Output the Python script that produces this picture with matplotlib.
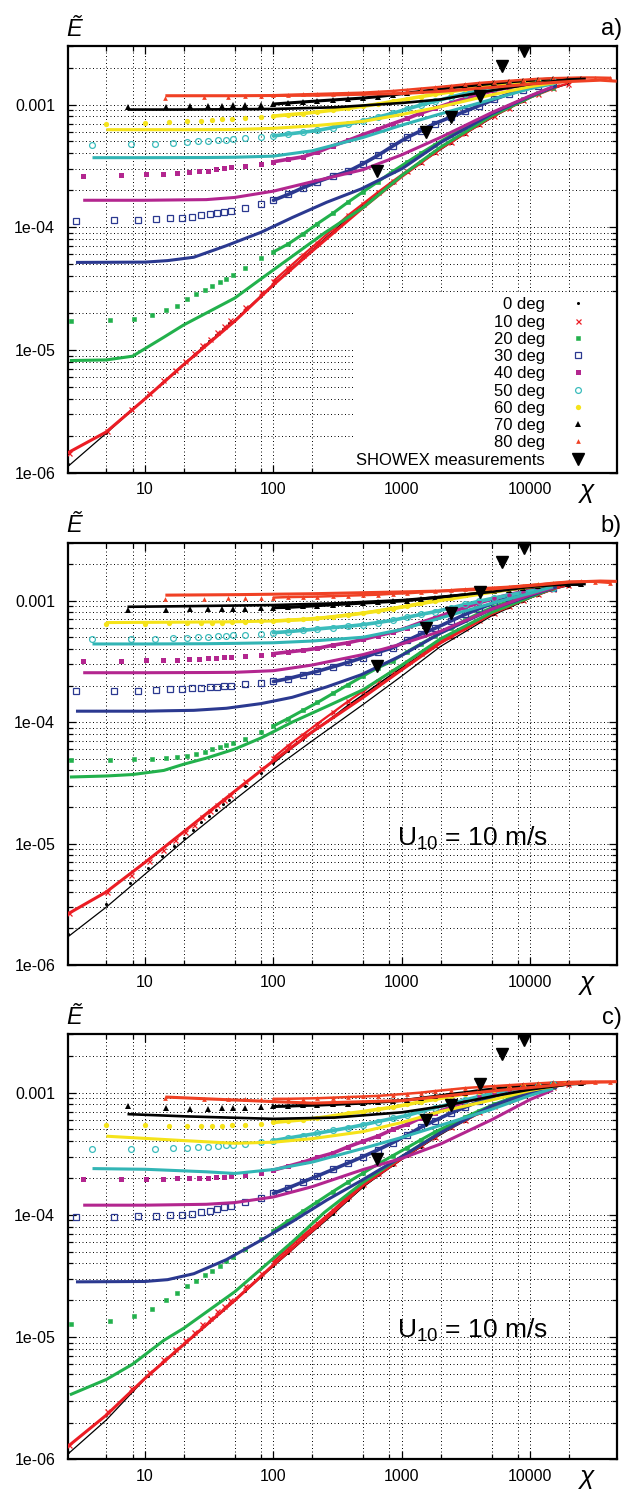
import matplotlib
matplotlib.use("Agg")
import matplotlib.pyplot as plt
from matplotlib.patches import Rectangle

plt.rcParams['font.family'] = ['Liberation Sans', 'DejaVu Sans']
plt.rcParams['mathtext.fontset'] = 'custom'
plt.rcParams['mathtext.rm'] = 'Liberation Sans'
plt.rcParams['mathtext.it'] = 'Liberation Sans:italic'

# ---------------- data ----------------
LABELS = ['0 deg', '10 deg', '20 deg', '30 deg', '40 deg', '50 deg', '60 deg', '70 deg', '80 deg']
SHOWEX_LABEL = 'SHOWEX measurements'
PANEL_TAGS = ['a)', 'b)', 'c)']
U10_TEXT = r'U$_{\mathregular{10}}$ = 10 m/s'

XTICKS = [10, 100, 1000, 10000]
XTICKLABELS = ['10', '100', '1000', '10000']
XMINOR = [5, 8, 20, 50, 80, 200, 500, 800, 2000, 5000, 8000, 20000]
YTICKS = [1e-6, 1e-5, 1e-4, 1e-3]
YTICKLABELS = ['1e-06', '1e-05', '1e-04', '0.001']

# SHOWEX measurements
SX = [643, 1549, 2427, 4085, 6030, 8995]
SE = [2.88e-4, 6.0e-4, 7.98e-4, 1.18e-3, 2.08e-3, 2.71e-3]

# line knots (fetch) per angle
LX00 = [2.5, 5, 10, 20, 50, 100, 200, 500, 1000, 2000, 5000, 10000, 17000]
LX10 = [2.5, 5, 10, 20, 50, 100, 200, 500, 1000, 2000, 5000, 10000, 17000]
LX20 = [2.6, 5, 8, 14, 20, 30, 50, 80, 140, 250, 500, 1000, 2000, 5000, 10000, 16000]
LX30 = [2.9, 10, 15, 24, 43, 80, 140, 260, 480, 1000, 2000, 5000, 10000, 16000]
LX40 = [3.3, 10, 30, 50, 100, 200, 500, 1000, 2000, 5000, 10000, 15000]
LX50 = [3.9, 10, 30, 50, 100, 200, 500, 1000, 2000, 5000, 10000, 15000]
LX60 = [5, 20, 50, 100, 200, 500, 1000, 2000, 5000, 10000, 19000]
LX70 = [7.3, 20, 100, 300, 1000, 2000, 5000, 10000, 20000, 27000]
LX80 = [14.4, 50, 200, 1000, 2000, 5000, 10000, 20000, 35000, 47000]

# marker fetches: sparse start per angle, then shared dense part
MS00 = [2.5, 5.0, 7.7, 10.6, 13.6, 16.7, 20.0, 23.6, 27.5, 31.4, 35.8, 40.4, 45.3]
MS10 = [2.54, 5.08, 7.82, 10.8, 13.8, 17.0, 20.3, 24.0, 27.9, 31.9, 36.3, 41.0, 46.0]
MS20 = [2.66, 5.32, 8.19, 11.3, 14.5, 17.8, 21.3, 25.1, 29.3, 33.4, 38.1, 43.0, 48.2]
MS30 = [2.89, 5.77, 8.89, 12.2, 15.7, 19.3, 23.1, 27.3, 31.8, 36.3, 41.3, 46.7]
MS40 = [3.26, 6.53, 10.1, 13.8, 17.8, 21.8, 26.1, 30.8, 35.9, 41.0, 46.7]
MS50 = [3.89, 7.78, 12.0, 16.5, 21.2, 26.0, 31.1, 36.7, 42.8, 48.8]
MS60 = [5.0, 10.0, 15.4, 21.2, 27.2, 33.4, 40.0, 47.2]
MS70 = [7.31, 14.6, 22.5, 31.0, 39.8, 48.8]
MS80 = [14.4, 28.8, 44.3]
DX = [60, 80, 100, 130, 170, 220, 290, 380, 500, 650, 850, 1100, 1400, 1800,
      2400, 3100, 4000, 5200, 6800, 8800, 11500, 15000, 19500, 25000, 32000, 42000]
BAND_START = 100  # from this fetch on the model points overlap into a band

# ---- panel a: lines ----
A_L00 = [1.12e-6, 2.1e-6, 4.0e-6, 7.7e-6, 1.75e-5, 3.45e-5, 6.5e-5, 1.47e-4, 2.62e-4, 4.45e-4, 8.0e-4, 1.15e-3, 1.42e-3]
A_L10 = [1.45e-6, 2.15e-6, 4.0e-6, 7.6e-6, 1.72e-5, 3.4e-5, 6.4e-5, 1.45e-4, 2.6e-4, 4.4e-4, 8.0e-4, 1.15e-3, 1.43e-3]
A_L20 = [8.2e-6, 8.3e-6, 8.9e-6, 1.27e-5, 1.6e-5, 2.0e-5, 2.65e-5, 3.8e-5, 5.8e-5, 9.0e-5, 1.45e-4, 2.65e-4, 4.5e-4, 8.1e-4, 1.15e-3, 1.42e-3]
A_L30 = [5.17e-5, 5.2e-5, 5.35e-5, 5.7e-5, 7.08e-5, 9.1e-5, 1.2e-4, 1.6e-4, 2.05e-4, 3.0e-4, 4.9e-4, 8.4e-4, 1.17e-3, 1.42e-3]
A_L40 = [1.66e-4, 1.66e-4, 1.68e-4, 1.75e-4, 1.97e-4, 2.35e-4, 2.95e-4, 3.9e-4, 5.4e-4, 8.6e-4, 1.18e-3, 1.4e-3]
A_L50 = [3.69e-4, 3.69e-4, 3.7e-4, 3.72e-4, 3.8e-4, 4.2e-4, 5.4e-4, 6.8e-4, 8.4e-4, 1.1e-3, 1.35e-3, 1.47e-3]
A_L60 = [6.24e-4, 6.24e-4, 6.26e-4, 6.4e-4, 6.7e-4, 7.3e-4, 8.3e-4, 9.6e-4, 1.2e-3, 1.4e-3, 1.56e-3]
A_L70 = [0.91e-3, 0.91e-3, 0.92e-3, 0.95e-3, 1.03e-3, 1.1e-3, 1.3e-3, 1.47e-3, 1.6e-3, 1.62e-3]
A_L80 = [1.18e-3, 1.18e-3, 1.19e-3, 1.23e-3, 1.28e-3, 1.38e-3, 1.47e-3, 1.54e-3, 1.58e-3, 1.55e-3]
# ---- panel a: markers ----
A_M00 = [1.17e-6, 2.1e-6, 3.2e-6, 4.3e-6, 5.4e-6, 6.5e-6, 7.7e-6, 9.0e-6, 1.04e-5, 1.18e-5, 1.33e-5, 1.49e-5, 1.65e-5,
         2.1e-5, 2.75e-5, 3.4e-5, 4.35e-5, 5.6e-5, 7.1e-5, 9.2e-5, 1.19e-4, 1.5e-4, 1.85e-4, 2.3e-4, 2.8e-4, 3.35e-4,
         4.0e-4, 4.9e-4, 5.8e-4, 6.8e-4, 8.0e-4, 9.3e-4, 1.07e-3, 1.22e-3, 1.36e-3, 1.47e-3]
A_M10 = [1.45e-6, 2.2e-6, 3.3e-6, 4.5e-6, 5.7e-6, 6.9e-6, 8.1e-6, 9.5e-6, 1.09e-5, 1.24e-5, 1.4e-5, 1.57e-5, 1.74e-5,
         2.25e-5, 2.95e-5, 3.65e-5, 4.65e-5, 5.95e-5, 7.5e-5, 9.7e-5, 1.25e-4, 1.56e-4, 1.93e-4, 2.38e-4, 2.88e-4, 3.43e-4,
         4.08e-4, 4.98e-4, 5.9e-4, 6.9e-4, 8.1e-4, 9.4e-4, 1.08e-3, 1.23e-3, 1.37e-3, 1.48e-3]
A_M20 = [1.72e-5, 1.76e-5, 1.8e-5, 1.93e-5, 2.1e-5, 2.3e-5, 2.6e-5, 2.86e-5, 3.07e-5, 3.3e-5, 3.55e-5, 3.8e-5, 4.1e-5,
         4.65e-5, 5.6e-5, 6.3e-5, 7.3e-5, 8.8e-5, 1.07e-4, 1.3e-4, 1.6e-4, 1.95e-4, 2.35e-4, 2.85e-4, 3.4e-4, 4.0e-4,
         4.7e-4, 5.6e-4, 6.5e-4, 7.5e-4, 8.6e-4, 9.8e-4, 1.1e-3, 1.24e-3, 1.37e-3]
A_M30 = [1.13e-4, 1.14e-4, 1.15e-4, 1.17e-4, 1.18e-4, 1.2e-4, 1.22e-4, 1.25e-4, 1.28e-4, 1.3e-4, 1.32e-4, 1.35e-4,
         1.44e-4, 1.55e-4, 1.66e-4, 1.85e-4, 2.1e-4, 2.35e-4, 2.6e-4, 2.85e-4, 3.3e-4, 3.85e-4, 4.6e-4, 5.4e-4, 6.1e-4,
         7.0e-4, 7.9e-4, 8.8e-4, 9.8e-4, 1.1e-3, 1.22e-3, 1.32e-3, 1.42e-3, 1.5e-3]
A_M40 = [2.61e-4, 2.68e-4, 2.7e-4, 2.74e-4, 2.78e-4, 2.82e-4, 2.86e-4, 2.9e-4, 2.96e-4, 3.02e-4, 3.08e-4,
         3.18e-4, 3.3e-4, 3.42e-4, 3.58e-4, 3.75e-4, 4.1e-4, 4.6e-4, 5.1e-4, 5.7e-4, 6.3e-4, 7.0e-4, 7.7e-4, 8.5e-4,
         9.3e-4, 1.03e-3, 1.12e-3, 1.21e-3, 1.3e-3, 1.38e-3, 1.44e-3, 1.5e-3, 1.55e-3]
A_M50 = [4.71e-4, 4.73e-4, 4.78e-4, 4.86e-4, 4.93e-4, 5.0e-4, 5.08e-4, 5.13e-4, 5.18e-4, 5.22e-4,
         5.3e-4, 5.4e-4, 5.55e-4, 5.75e-4, 5.95e-4, 6.15e-4, 6.5e-4, 6.9e-4, 7.35e-4, 7.9e-4, 8.5e-4, 9.2e-4, 9.9e-4,
         1.06e-3, 1.15e-3, 1.23e-3, 1.3e-3, 1.37e-3, 1.43e-3, 1.48e-3, 1.52e-3, 1.55e-3]
A_M60 = [6.99e-4, 7.08e-4, 7.15e-4, 7.3e-4, 7.4e-4, 7.5e-4, 7.58e-4, 7.65e-4,
         7.8e-4, 7.95e-4, 8.05e-4, 8.25e-4, 8.45e-4, 8.7e-4, 9.0e-4, 9.3e-4, 9.7e-4, 1.01e-3, 1.06e-3, 1.11e-3, 1.16e-3,
         1.21e-3, 1.27e-3, 1.33e-3, 1.38e-3, 1.43e-3, 1.48e-3, 1.52e-3, 1.55e-3, 1.57e-3]
A_M70 = [0.95e-3, 0.96e-3, 0.97e-3, 0.975e-3, 0.98e-3, 0.99e-3,
         0.995e-3, 1.0e-3, 1.01e-3, 1.03e-3, 1.05e-3, 1.07e-3, 1.09e-3, 1.11e-3, 1.13e-3, 1.16e-3, 1.2e-3, 1.24e-3,
         1.28e-3, 1.32e-3, 1.37e-3, 1.41e-3, 1.45e-3, 1.49e-3, 1.53e-3, 1.56e-3, 1.59e-3, 1.62e-3, 1.63e-3, 1.63e-3]
A_M80 = [1.13e-3, 1.15e-3, 1.16e-3,
         1.17e-3, 1.18e-3, 1.19e-3, 1.2e-3, 1.21e-3, 1.22e-3, 1.23e-3, 1.24e-3, 1.25e-3, 1.27e-3, 1.29e-3, 1.32e-3,
         1.35e-3, 1.38e-3, 1.42e-3, 1.46e-3, 1.5e-3, 1.53e-3, 1.56e-3, 1.59e-3, 1.62e-3, 1.64e-3, 1.65e-3, 1.66e-3,
         1.66e-3, 1.65e-3]

# ---- panel b: lines ----
B_L00 = [1.7e-6, 3.0e-6, 5.6e-6, 1.05e-5, 2.3e-5, 4.1e-5, 7.0e-5, 1.4e-4, 2.4e-4, 4.2e-4, 7.5e-4, 1.05e-3, 1.3e-3]
B_L10 = [2.63e-6, 4.0e-6, 7.0e-6, 1.25e-5, 2.7e-5, 4.8e-5, 8.3e-5, 1.6e-4, 2.7e-4, 4.5e-4, 7.8e-4, 1.07e-3, 1.31e-3]
B_L20 = [3.53e-5, 3.6e-5, 3.7e-5, 4.0e-5, 4.5e-5, 5.05e-5, 6.0e-5, 7.4e-5, 1.0e-4, 1.32e-4, 1.85e-4, 2.95e-4, 4.85e-4, 8.0e-4, 1.07e-3, 1.3e-3]
B_L30 = [1.23e-4, 1.23e-4, 1.24e-4, 1.25e-4, 1.3e-4, 1.42e-4, 1.6e-4, 1.95e-4, 2.45e-4, 3.55e-4, 5.4e-4, 8.5e-4, 1.1e-3, 1.3e-3]
B_L40 = [2.55e-4, 2.55e-4, 2.56e-4, 2.57e-4, 2.65e-4, 2.95e-4, 3.6e-4, 4.4e-4, 5.6e-4, 8.5e-4, 1.12e-3, 1.28e-3]
B_L50 = [4.4e-4, 4.4e-4, 4.42e-4, 4.45e-4, 4.5e-4, 4.65e-4, 5.0e-4, 5.8e-4, 7.2e-4, 9.5e-4, 1.15e-3, 1.3e-3]
B_L60 = [6.6e-4, 6.65e-4, 6.7e-4, 6.8e-4, 7.05e-4, 7.9e-4, 8.9e-4, 1.0e-3, 1.17e-3, 1.3e-3, 1.38e-3]
B_L70 = [0.89e-3, 0.9e-3, 0.92e-3, 0.95e-3, 1.01e-3, 1.07e-3, 1.18e-3, 1.3e-3, 1.37e-3, 1.37e-3]
B_L80 = [1.11e-3, 1.12e-3, 1.14e-3, 1.18e-3, 1.2e-3, 1.25e-3, 1.33e-3, 1.42e-3, 1.45e-3, 1.44e-3]
# ---- panel b: markers ----
B_M00 = [1.8e-6, 3.2e-6, 4.7e-6, 6.3e-6, 7.9e-6, 9.5e-6, 1.12e-5, 1.3e-5, 1.5e-5, 1.7e-5, 1.9e-5, 2.1e-5, 2.3e-5,
         3.0e-5, 3.8e-5, 4.6e-5, 5.8e-5, 7.2e-5, 8.9e-5, 1.1e-4, 1.37e-4, 1.68e-4, 2.05e-4, 2.5e-4, 3.0e-4, 3.55e-4,
         4.2e-4, 5.0e-4, 5.9e-4, 6.8e-4, 7.8e-4, 8.9e-4, 1.0e-3, 1.12e-3, 1.24e-3, 1.33e-3]
B_M10 = [2.7e-6, 4.0e-6, 5.5e-6, 7.2e-6, 8.9e-6, 1.06e-5, 1.24e-5, 1.43e-5, 1.64e-5, 1.85e-5, 2.07e-5, 2.3e-5, 2.52e-5,
         3.3e-5, 4.2e-5, 5.1e-5, 6.4e-5, 7.9e-5, 9.7e-5, 1.2e-4, 1.48e-4, 1.8e-4, 2.2e-4, 2.65e-4, 3.15e-4, 3.7e-4,
         4.35e-4, 5.15e-4, 6.0e-4, 6.9e-4, 7.9e-4, 9.0e-4, 1.01e-3, 1.13e-3, 1.25e-3, 1.34e-3]
B_M20 = [4.84e-5, 4.9e-5, 4.95e-5, 5.0e-5, 5.05e-5, 5.17e-5, 5.3e-5, 5.5e-5, 5.7e-5, 5.95e-5, 6.2e-5, 6.45e-5, 6.7e-5,
         7.3e-5, 8.3e-5, 9.3e-5, 1.07e-4, 1.25e-4, 1.45e-4, 1.72e-4, 2.03e-4, 2.4e-4, 2.8e-4, 3.2e-4, 3.8e-4, 4.4e-4,
         5.1e-4, 6.0e-4, 6.9e-4, 7.9e-4, 8.9e-4, 9.9e-4, 1.08e-3, 1.17e-3, 1.25e-3]
B_M30 = [1.79e-4, 1.8e-4, 1.82e-4, 1.85e-4, 1.87e-4, 1.88e-4, 1.9e-4, 1.92e-4, 1.94e-4, 1.96e-4, 1.98e-4, 2.0e-4,
         2.04e-4, 2.1e-4, 2.16e-4, 2.28e-4, 2.45e-4, 2.62e-4, 2.85e-4, 3.1e-4, 3.4e-4, 3.75e-4, 4.1e-4, 4.7e-4, 5.3e-4,
         5.9e-4, 6.8e-4, 7.7e-4, 8.6e-4, 9.6e-4, 1.06e-3, 1.14e-3, 1.22e-3, 1.28e-3]
B_M40 = [3.17e-4, 3.2e-4, 3.22e-4, 3.25e-4, 3.27e-4, 3.3e-4, 3.33e-4, 3.36e-4, 3.4e-4, 3.43e-4, 3.46e-4,
         3.5e-4, 3.58e-4, 3.66e-4, 3.78e-4, 3.9e-4, 4.05e-4, 4.3e-4, 4.5e-4, 4.8e-4, 5.15e-4, 5.5e-4, 6.0e-4, 6.6e-4,
         7.2e-4, 8.0e-4, 8.8e-4, 9.6e-4, 1.04e-3, 1.12e-3, 1.19e-3, 1.25e-3, 1.3e-3]
B_M50 = [4.8e-4, 4.83e-4, 4.85e-4, 4.9e-4, 4.95e-4, 5.0e-4, 5.05e-4, 5.1e-4, 5.15e-4, 5.2e-4,
         5.25e-4, 5.35e-4, 5.45e-4, 5.55e-4, 5.7e-4, 5.85e-4, 6.0e-4, 6.15e-4, 6.35e-4, 6.6e-4, 6.9e-4, 7.3e-4, 7.7e-4,
         8.1e-4, 8.7e-4, 9.3e-4, 9.9e-4, 1.05e-3, 1.11e-3, 1.17e-3, 1.23e-3, 1.28e-3]
B_M60 = [6.4e-4, 6.45e-4, 6.5e-4, 6.5e-4, 6.55e-4, 6.6e-4, 6.6e-4, 6.65e-4,
         6.7e-4, 6.75e-4, 6.8e-4, 6.9e-4, 7.0e-4, 7.15e-4, 7.35e-4, 7.6e-4, 7.9e-4, 8.2e-4, 8.6e-4, 9.0e-4, 9.5e-4,
         1.0e-3, 1.06e-3, 1.11e-3, 1.16e-3, 1.21e-3, 1.26e-3, 1.3e-3, 1.34e-3, 1.36e-3]
B_M70 = [0.84e-3, 0.845e-3, 0.85e-3, 0.85e-3, 0.855e-3, 0.855e-3,
         0.86e-3, 0.87e-3, 0.875e-3, 0.88e-3, 0.895e-3, 0.91e-3, 0.925e-3, 0.94e-3, 0.955e-3, 0.97e-3, 0.985e-3, 1.0e-3,
         1.03e-3, 1.06e-3, 1.09e-3, 1.12e-3, 1.15e-3, 1.19e-3, 1.23e-3, 1.27e-3, 1.31e-3, 1.34e-3, 1.36e-3, 1.36e-3]
B_M80 = [1.03e-3, 1.04e-3, 1.05e-3,
         1.05e-3, 1.055e-3, 1.06e-3, 1.07e-3, 1.075e-3, 1.08e-3, 1.09e-3, 1.1e-3, 1.11e-3, 1.12e-3, 1.14e-3, 1.15e-3,
         1.17e-3, 1.19e-3, 1.22e-3, 1.24e-3, 1.26e-3, 1.28e-3, 1.3e-3, 1.33e-3, 1.36e-3, 1.4e-3, 1.43e-3, 1.44e-3,
         1.43e-3, 1.4e-3]

# ---- panel c: lines ----
C_L00 = [1.1e-6, 2.1e-6, 4.55e-6, 8.6e-6, 1.98e-5, 3.8e-5, 7.2e-5, 1.7e-4, 2.85e-4, 4.6e-4, 7.7e-4, 1.0e-3, 1.15e-3]
C_L10 = [1.27e-6, 2.3e-6, 4.6e-6, 8.7e-6, 2.0e-5, 3.9e-5, 7.4e-5, 1.75e-4, 2.9e-4, 4.7e-4, 7.7e-4, 1.0e-3, 1.15e-3]
C_L20 = [3.37e-6, 4.5e-6, 6.0e-6, 9.4e-6, 1.18e-5, 1.6e-5, 2.35e-5, 3.6e-5, 6.0e-5, 1.05e-4, 1.85e-4, 3.0e-4, 4.75e-4, 7.8e-4, 1.0e-3, 1.15e-3]
C_L30 = [2.83e-5, 2.85e-5, 2.95e-5, 3.3e-5, 4.3e-5, 6.2e-5, 8.8e-5, 1.32e-4, 1.9e-4, 3.0e-4, 4.7e-4, 7.8e-4, 1.0e-3, 1.15e-3]
C_L40 = [1.2e-4, 1.2e-4, 1.22e-4, 1.26e-4, 1.4e-4, 1.7e-4, 2.35e-4, 2.9e-4, 3.8e-4, 6.0e-4, 8.8e-4, 1.05e-3]
C_L50 = [2.39e-4, 2.36e-4, 2.25e-4, 2.18e-4, 2.35e-4, 2.7e-4, 3.5e-4, 4.3e-4, 5.4e-4, 7.3e-4, 9.5e-4, 1.08e-3]
C_L60 = [4.4e-4, 4.05e-4, 3.85e-4, 3.93e-4, 4.2e-4, 4.8e-4, 5.7e-4, 7.0e-4, 8.7e-4, 1.04e-3, 1.18e-3]
C_L70 = [0.667e-3, 0.64e-3, 0.61e-3, 0.625e-3, 0.69e-3, 0.77e-3, 0.93e-3, 1.06e-3, 1.17e-3, 1.19e-3]
C_L80 = [0.92e-3, 0.87e-3, 0.82e-3, 0.86e-3, 0.93e-3, 1.03e-3, 1.1e-3, 1.18e-3, 1.22e-3, 1.23e-3]
# ---- panel c: markers ----
C_M00 = [1.15e-6, 2.3e-6, 3.5e-6, 4.8e-6, 6.1e-6, 7.4e-6, 8.7e-6, 1.02e-5, 1.17e-5, 1.32e-5, 1.5e-5, 1.67e-5, 1.85e-5,
         2.4e-5, 3.1e-5, 3.85e-5, 4.9e-5, 6.3e-5, 7.9e-5, 1.01e-4, 1.32e-4, 1.7e-4, 2.1e-4, 2.55e-4, 3.05e-4, 3.6e-4,
         4.25e-4, 5.1e-4, 5.9e-4, 6.8e-4, 7.7e-4, 8.6e-4, 9.5e-4, 1.04e-3, 1.11e-3, 1.16e-3]
C_M10 = [1.3e-6, 2.5e-6, 3.8e-6, 5.2e-6, 6.6e-6, 8.0e-6, 9.4e-6, 1.1e-5, 1.27e-5, 1.43e-5, 1.62e-5, 1.8e-5, 2.0e-5,
         2.6e-5, 3.35e-5, 4.15e-5, 5.3e-5, 6.8e-5, 8.5e-5, 1.09e-4, 1.42e-4, 1.8e-4, 2.2e-4, 2.65e-4, 3.15e-4, 3.7e-4,
         4.35e-4, 5.2e-4, 6.0e-4, 6.9e-4, 7.8e-4, 8.7e-4, 9.6e-4, 1.05e-3, 1.12e-3, 1.17e-3]
C_M20 = [1.28e-5, 1.35e-5, 1.5e-5, 1.7e-5, 2.0e-5, 2.3e-5, 2.6e-5, 2.9e-5, 3.2e-5, 3.5e-5, 3.85e-5, 4.2e-5, 4.55e-5,
         5.3e-5, 6.4e-5, 7.4e-5, 8.9e-5, 1.07e-4, 1.28e-4, 1.55e-4, 1.85e-4, 2.2e-4, 2.6e-4, 3.05e-4, 3.55e-4, 4.1e-4,
         4.75e-4, 5.5e-4, 6.3e-4, 7.1e-4, 8.0e-4, 8.9e-4, 9.7e-4, 1.05e-3, 1.12e-3]
C_M30 = [0.96e-4, 0.96e-4, 0.97e-4, 0.98e-4, 0.99e-4, 1.0e-4, 1.02e-4, 1.05e-4, 1.08e-4, 1.11e-4, 1.15e-4, 1.19e-4,
         1.27e-4, 1.38e-4, 1.5e-4, 1.66e-4, 1.86e-4, 2.08e-4, 2.35e-4, 2.65e-4, 3.0e-4, 3.4e-4, 3.9e-4, 4.5e-4, 5.2e-4,
         5.9e-4, 6.8e-4, 7.6e-4, 8.5e-4, 9.3e-4, 1.01e-3, 1.07e-3, 1.12e-3, 1.16e-3]
C_M40 = [1.95e-4, 1.96e-4, 1.97e-4, 1.98e-4, 1.99e-4, 2.0e-4, 2.0e-4, 2.01e-4, 2.03e-4, 2.05e-4, 2.07e-4,
         2.12e-4, 2.22e-4, 2.32e-4, 2.5e-4, 2.7e-4, 2.95e-4, 3.2e-4, 3.6e-4, 4.0e-4, 4.4e-4, 5.0e-4, 5.5e-4, 6.2e-4,
         6.8e-4, 7.6e-4, 8.4e-4, 9.2e-4, 9.9e-4, 1.05e-3, 1.1e-3, 1.14e-3, 1.17e-3]
C_M50 = [3.44e-4, 3.46e-4, 3.48e-4, 3.53e-4, 3.55e-4, 3.58e-4, 3.6e-4, 3.65e-4, 3.7e-4, 3.75e-4,
         3.83e-4, 3.95e-4, 4.05e-4, 4.25e-4, 4.45e-4, 4.65e-4, 4.9e-4, 5.15e-4, 5.45e-4, 5.8e-4, 6.15e-4, 6.5e-4,
         7.0e-4, 7.5e-4, 8.1e-4, 8.7e-4, 9.3e-4, 9.9e-4, 1.05e-3, 1.1e-3, 1.14e-3, 1.17e-3]
C_M60 = [5.42e-4, 5.4e-4, 5.38e-4, 5.36e-4, 5.36e-4, 5.37e-4, 5.38e-4, 5.4e-4,
         5.45e-4, 5.55e-4, 5.7e-4, 5.85e-4, 6.0e-4, 6.2e-4, 6.45e-4, 6.75e-4, 7.0e-4, 7.3e-4, 7.6e-4, 8.0e-4, 8.4e-4,
         8.8e-4, 9.3e-4, 9.8e-4, 1.02e-3, 1.06e-3, 1.1e-3, 1.13e-3, 1.16e-3, 1.18e-3]
C_M70 = [0.77e-3, 0.745e-3, 0.74e-3, 0.74e-3, 0.745e-3, 0.75e-3,
         0.755e-3, 0.765e-3, 0.77e-3, 0.775e-3, 0.785e-3, 0.79e-3, 0.8e-3, 0.81e-3, 0.82e-3, 0.835e-3, 0.85e-3, 0.87e-3,
         0.9e-3, 0.93e-3, 0.97e-3, 1.0e-3, 1.04e-3, 1.07e-3, 1.1e-3, 1.13e-3, 1.16e-3, 1.18e-3, 1.2e-3, 1.2e-3]
C_M80 = [0.9e-3, 0.895e-3, 0.89e-3,
         0.89e-3, 0.89e-3, 0.89e-3, 0.89e-3, 0.895e-3, 0.9e-3, 0.91e-3, 0.92e-3, 0.93e-3, 0.94e-3, 0.96e-3, 0.98e-3,
         1.0e-3, 1.03e-3, 1.06e-3, 1.09e-3, 1.11e-3, 1.13e-3, 1.15e-3, 1.17e-3, 1.19e-3, 1.21e-3, 1.22e-3, 1.23e-3,
         1.23e-3, 1.22e-3]

LX = [LX00, LX10, LX20, LX30, LX40, LX50, LX60, LX70, LX80]
MSX = [MS00, MS10, MS20, MS30, MS40, MS50, MS60, MS70, MS80]
PANEL_LINES = [
    [A_L00, A_L10, A_L20, A_L30, A_L40, A_L50, A_L60, A_L70, A_L80],
    [B_L00, B_L10, B_L20, B_L30, B_L40, B_L50, B_L60, B_L70, B_L80],
    [C_L00, C_L10, C_L20, C_L30, C_L40, C_L50, C_L60, C_L70, C_L80],
]
PANEL_MARKS = [
    [A_M00, A_M10, A_M20, A_M30, A_M40, A_M50, A_M60, A_M70, A_M80],
    [B_M00, B_M10, B_M20, B_M30, B_M40, B_M50, B_M60, B_M70, B_M80],
    [C_M00, C_M10, C_M20, C_M30, C_M40, C_M50, C_M60, C_M70, C_M80],
]

# ---------------- styles ----------------
RED = '#ec1c24'
RED2 = '#f04124'
GREEN = '#22b14c'
NAVY = '#2b3990'
MAG = '#b3268f'
CYAN = '#3bbcbc'
YEL = '#f5e31a'
LINE_COLORS = ['black', RED, GREEN, NAVY, MAG, '#32b5b5', YEL, 'black', RED2]
LINE_WIDTHS = [0.9, 2.2, 2.2, 2.2, 2.2, 2.2, 2.2, 1.9, 2.2]
MARK_COLORS = ['black', RED, GREEN, NAVY, MAG, CYAN, YEL, 'black', RED2]
BAND_WIDTHS = [1.2, 1.6, 2.2, 2.6, 2.6, 2.6, 2.6, 2.2, 1.8]
MSTYLE = [
    dict(marker='o', ms=2.2, mfc='black', mec='black', mew=0),
    dict(marker='x', ms=3.6, mfc=RED, mec=RED, mew=0.9),
    dict(marker='s', ms=3.2, mfc=GREEN, mec=GREEN, mew=0.4),
    dict(marker='s', ms=4.0, mfc='none', mec=NAVY, mew=0.9),
    dict(marker='s', ms=3.6, mfc=MAG, mec=MAG, mew=0),
    dict(marker='o', ms=4.2, mfc='none', mec=CYAN, mew=0.9),
    dict(marker='o', ms=3.8, mfc=YEL, mec=YEL, mew=0),
    dict(marker='^', ms=4.2, mfc='black', mec='black', mew=0),
    dict(marker='^', ms=3.4, mfc=RED2, mec=RED2, mew=0),
]

FIG_W, FIG_H = 623, 1494
# axes boxes in pixels: (top, bottom)
PANEL_PIX = [(46.0, 472.7), (542.7, 965.0), (1034.3, 1459.3)]
AX_LEFT, AX_RIGHT = 67.7, 616.7

fig = plt.figure(figsize=(FIG_W / 100, FIG_H / 100), dpi=100)

for p, (top, bot) in enumerate(PANEL_PIX):
    ax = fig.add_axes([AX_LEFT / FIG_W, 1 - bot / FIG_H, (AX_RIGHT - AX_LEFT) / FIG_W, (bot - top) / FIG_H])
    ax.set_xscale('log')
    ax.set_yscale('log')
    ax.set_xlim(2.5, 47000)
    ax.set_ylim(1e-6, 3e-3)
    ax.set_axisbelow(True)

    ax.set_xticks(XTICKS)
    ax.set_xticklabels(XTICKLABELS)
    ax.set_xticks(XMINOR, minor=True)
    ax.set_xticklabels([], minor=True)
    ax.set_yticks(YTICKS)
    ax.set_yticklabels(YTICKLABELS)
    ymin = [k * 10.0 ** e for e in range(-6, -2) for k in range(2, 10) if k * 10.0 ** e <= 3e-3]
    ax.set_yticks(ymin, minor=True)
    ax.set_yticklabels([], minor=True)

    ax.grid(True, which='both', color='black', linestyle=(0, (1, 2.6)), linewidth=0.7)
    ax.tick_params(which='both', direction='in', top=True, right=True, labelsize=11.5, width=0.9)
    ax.tick_params(which='major', length=6)
    ax.tick_params(which='minor', length=3.5)
    ax.tick_params(axis='x', which='major', pad=7)
    ax.tick_params(axis='y', which='major', pad=9)
    for s in ax.spines.values():
        s.set_linewidth(1.6)

    lines_y = PANEL_LINES[p]
    marks_y = PANEL_MARKS[p]
    for i in range(9):
        n_dense = len(marks_y[i]) - len(MSX[i])
        mx = MSX[i] + DX[:n_dense]
        my = marks_y[i]
        k0 = next(k for k, v in enumerate(mx) if v >= BAND_START)
        ax.plot(mx[k0:], my[k0:], color=MARK_COLORS[i], lw=BAND_WIDTHS[i], zorder=2.9,
                solid_joinstyle='round', solid_capstyle='round')
        ax.plot(mx, my, linestyle='none', zorder=3, **MSTYLE[i])
    for i in range(9):
        ax.plot(LX[i], lines_y[i], color=LINE_COLORS[i], lw=LINE_WIDTHS[i], zorder=4,
                solid_joinstyle='round', solid_capstyle='butt')
    ax.plot(SX, SE, linestyle='none', marker='v', ms=8, color='black', zorder=6, clip_on=False)

    # labels around the axes
    fig.text(66 / FIG_W, 1 - (top - 10.5) / FIG_H, 'Ẽ', ha='left', va='baseline',
             fontsize=17, style='italic')
    fig.text(622 / FIG_W, 1 - (top - 10.5) / FIG_H, PANEL_TAGS[p], ha='right', va='baseline', fontsize=17)
    fig.text(587 / FIG_W, 1 - (bot + 25.0) / FIG_H, 'χ', ha='center', va='baseline',
             fontsize=19, style='italic')

    if p == 0:
        ax.add_patch(Rectangle((0.523, 0.0), 0.477, 0.421, transform=ax.transAxes,
                               facecolor='white', edgecolor='none', zorder=1))
        for i, lab in enumerate(LABELS + [SHOWEX_LABEL]):
            yc = 303.3 + i * 17.27
            ya = (bot - yc) / (bot - top)
            ax.text(0.869, (bot - yc - 6.0) / (bot - top), lab, transform=ax.transAxes,
                    ha='right', va='baseline', fontsize=12, zorder=7)
            if i < 9:
                ax.plot([0.929], [ya], transform=ax.transAxes, linestyle='none', zorder=7,
                        clip_on=False, **MSTYLE[i])
            else:
                ax.plot([0.929], [ya], transform=ax.transAxes, linestyle='none', marker='v',
                        ms=8, color='black', zorder=7, clip_on=False)
    else:
        ax.text(0.599, (bot - (top + 303.0)) / (bot - top), U10_TEXT, transform=ax.transAxes,
                ha='left', va='baseline', fontsize=19, zorder=7)

fig.savefig('out.png', dpi=100)
